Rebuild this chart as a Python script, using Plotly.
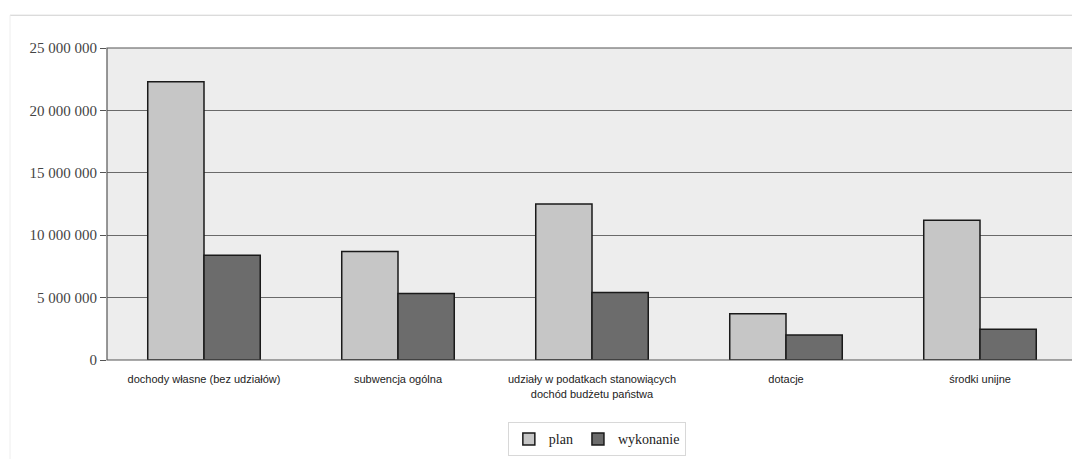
import plotly.graph_objects as go

categories = [
    "dochody własne (bez udziałów)",
    "subwencja ogólna",
    "udziały w podatkach stanowiących<br>dochód budżetu państwa",
    "dotacje",
    "środki unijne",
]
plan = [22300000, 8700000, 12500000, 3700000, 11200000]
wykonanie = [8400000, 5330000, 5400000, 2000000, 2470000]
tick_vals = [0, 5000000, 10000000, 15000000, 20000000, 25000000]
tick_text = ["0", "5 000 000", "10 000 000", "15 000 000", "20 000 000", "25 000 000"]

fig = go.Figure()
fig.add_trace(go.Bar(
    x=categories, y=plan, name="plan",
    marker=dict(color="#c6c6c6", line=dict(color="#1a1a1a", width=1.5)),
))
fig.add_trace(go.Bar(
    x=categories, y=wykonanie, name="wykonanie",
    marker=dict(color="#6c6c6c", line=dict(color="#1a1a1a", width=1.5)),
))

fig.update_layout(
    width=1072, height=451,
    margin=dict(l=99, r=3, t=40, b=93),
    paper_bgcolor="white",
    plot_bgcolor="#ededed",
    barmode="group",
    bargap=0.42,
    bargroupgap=0,
    showlegend=True,
    legend=dict(
        orientation="h", x=0.505, xanchor="center", y=-0.2, yanchor="top",
        font=dict(family="Liberation Serif", size=14, color="#222"),
        bordercolor="#d8d8d8", borderwidth=1, bgcolor="white",
        itemwidth=30, tracegroupgap=0,
    ),
    font=dict(family="Liberation Sans", color="#222"),
    shapes=[
        dict(type="rect", xref="paper", yref="paper", x0=0, x1=1, y0=0, y1=1,
             line=dict(color="#555", width=1.2), layer="above"),
        dict(type="line", xref="paper", yref="paper",
             x0=-0.1, x1=1.006, y0=1.105, y1=1.105,
             line=dict(color="#cfcfcf", width=1)),
        dict(type="line", xref="paper", yref="paper",
             x0=-0.1, x1=-0.1, y0=1.105, y1=-0.33,
             line=dict(color="#eeeeee", width=1)),
    ],
)
fig.update_xaxes(
    showgrid=False, showline=False,
    ticks="outside", ticklen=9, tickcolor="rgba(0,0,0,0)",
    tickfont=dict(family="Liberation Sans", size=11, color="#222"),
)
fig.update_yaxes(
    range=[0, 25000000], tickvals=tick_vals, ticktext=tick_text,
    showgrid=True, gridcolor="#6a6a6a", gridwidth=1,
    zeroline=False, ticks="outside", ticklen=6, tickcolor="#555",
    tickfont=dict(family="Liberation Serif", size=15, color="#444"),
)
fig.write_html("out.html")
